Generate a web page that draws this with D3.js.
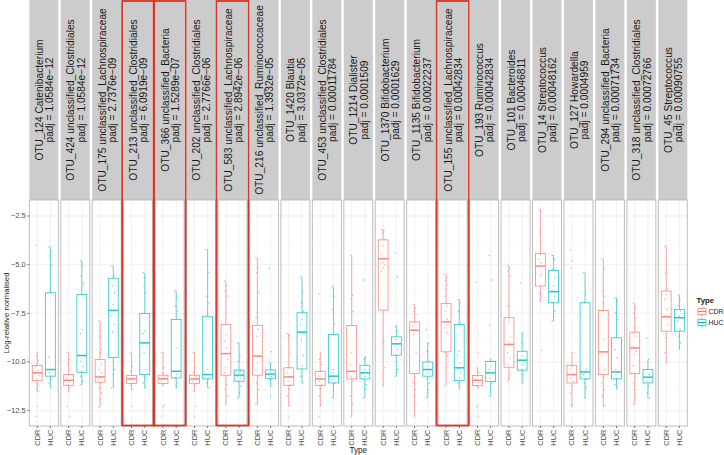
<!DOCTYPE html>
<html>
<head>
<meta charset="utf-8">
<script src="https://cdn.jsdelivr.net/npm/d3@7"></script>
<style>
  body { margin: 0; background: #fff; }
  text { font-family: "Liberation Sans", Arial, sans-serif; }
</style>
</head>
<body>
<div id="chart"></div>
<script>
// DATA
const otus = ["OTU_124 Catenibacterium", "OTU_424 unclassified_Clostridiales", "OTU_175 unclassified_Lachnospiraceae",
  "OTU_213 unclassified_Clostridiales", "OTU_366 unclassified_Bacteria", "OTU_202 unclassified_Clostridiales",
  "OTU_583 unclassified_Lachnospiraceae", "OTU_216 unclassified_Ruminococcaceae", "OTU_1420 Blautia",
  "OTU_453 unclassified_Clostridiales", "OTU_1214 Dialister", "OTU_1370 Bifidobacterium", "OTU_1135 Bifidobacterium",
  "OTU_155 unclassified_Lachnospiraceae", "OTU_193 Ruminococcus", "OTU_101 Bacteroides", "OTU_14 Streptococcus",
  "OTU_127 Howardella", "OTU_294 unclassified_Bacteria", "OTU_318 unclassified_Clostridiales", "OTU_45 Streptococcus"];
const padj = ["1.0584e−12", "1.0584e−12", "2.7376e−09", "6.0919e−09", "1.5289e−07", "2.7766e−06", "2.8942e−06",
  "1.3932e−05", "3.0372e−05", "0.00011784", "0.0001509", "0.0001629", "0.00022237", "0.00042834", "0.00042834",
  "0.00046811", "0.00048162", "0.0004959", "0.00071734", "0.00072766", "0.00090755"];
const highlighted = ["OTU_213 unclassified_Clostridiales", "OTU_366 unclassified_Bacteria",
  "OTU_583 unclassified_Lachnospiraceae", "OTU_155 unclassified_Lachnospiraceae"];
const types = ["CDR", "HUC"];
const yTicks = [-2.5, -5.0, -7.5, -10.0, -12.5];

// box stats: [lower whisker, q1, median, q3, upper whisker]
const cdrBox = [
  [-11.51, -10.96, -10.56, -10.18, -9.53], [-11.51, -11.20, -10.94, -10.65, -9.50], [-12.31, -11.04, -10.77, -9.88, -7.90],
  [-11.42, -11.11, -10.87, -10.70, -9.53], [-11.21, -11.11, -10.87, -10.68, -9.50], [-11.51, -11.11, -10.87, -10.68, -9.50],
  [-12.19, -10.68, -9.57, -8.07, -5.84], [-12.19, -10.68, -9.70, -8.13, -4.64], [-12.28, -11.20, -10.77, -10.30, -8.54],
  [-12.28, -11.20, -10.87, -10.48, -9.50], [-12.79, -10.87, -10.48, -8.13, -4.52], [-11.21, -7.34, -4.70, -3.73, -3.19],
  [-12.79, -10.60, -8.37, -7.94, -7.05], [-11.21, -9.48, -7.94, -6.99, -5.50], [-11.33, -11.21, -10.94, -10.70, -10.30],
  [-10.99, -10.27, -9.10, -7.73, -5.04], [-6.87, -6.10, -5.07, -4.42, -2.16], [-12.28, -11.08, -10.65, -10.17, -9.50],
  [-12.28, -10.65, -9.48, -7.35, -4.73], [-12.19, -10.60, -9.28, -8.47, -6.99], [-10.05, -8.42, -7.68, -6.36, -4.04]
];
const hucBox = [
  [-11.33, -10.73, -10.39, -6.45, -4.08], [-11.16, -10.53, -9.67, -6.53, -4.82], [-11.33, -9.77, -7.35, -5.70, -5.07],
  [-11.33, -10.65, -9.02, -7.51, -5.42], [-11.33, -10.82, -10.48, -7.82, -6.36], [-11.33, -10.87, -10.65, -7.65, -4.22],
  [-11.85, -10.99, -10.68, -10.42, -9.02], [-11.26, -10.84, -10.62, -10.41, -10.05], [-11.08, -10.36, -8.47, -7.47, -5.64],
  [-11.85, -11.08, -10.73, -8.59, -6.14], [-11.85, -10.87, -10.56, -10.17, -9.74], [-10.73, -9.65, -9.07, -8.71, -8.16],
  [-11.85, -10.73, -10.39, -10.00, -9.02], [-11.38, -10.96, -10.30, -8.07, -6.79], [-11.78, -11.01, -10.56, -9.98, -9.80],
  [-11.08, -10.42, -9.91, -9.45, -8.50], [-7.90, -6.96, -6.39, -5.30, -4.52], [-11.85, -10.87, -10.51, -6.96, -5.42],
  [-11.38, -10.87, -10.51, -8.76, -6.70], [-11.85, -11.08, -10.78, -10.39, -9.88], [-9.33, -8.42, -7.73, -7.30, -6.55]
];
const cdrPts = [
  [-4.01, -9.53, -9.70, -9.91, -10.08, -10.25, -10.42, -10.56, -10.70, -10.87, -11.04, -11.20, -11.38, -11.51, -12.28, -12.79],
  [-9.50, -9.88, -10.13, -10.39, -10.65, -10.82, -10.99, -11.16, -11.33, -11.51, -12.28, -12.79],
  [-7.90, -8.42, -8.68, -9.36, -9.53, -9.88, -10.13, -10.39, -10.56, -10.77, -10.90, -11.08, -11.33, -11.59, -11.93, -12.31],
  [-9.53, -10.25, -10.48, -10.70, -10.82, -10.94, -11.08, -11.21, -11.42, -12.28],
  [-9.50, -10.30, -10.56, -10.73, -10.87, -10.99, -11.11, -11.21, -12.24, -12.31, -12.79],
  [-9.50, -10.30, -10.56, -10.73, -10.87, -10.99, -11.16, -11.51, -12.28, -12.79],
  [-5.84, -6.07, -6.36, -6.62, -8.59, -8.93, -9.28, -9.57, -9.88, -10.30, -10.56, -11.16, -11.42, -11.76, -12.19],
  [-4.64, -5.16, -5.42, -6.45, -7.47, -7.73, -8.33, -8.68, -9.70, -10.05, -10.39, -10.73, -11.08, -11.42, -11.76, -12.19],
  [-8.54, -8.64, -8.81, -9.53, -10.30, -10.56, -10.77, -10.99, -11.16, -11.42, -11.76, -12.28, -12.79],
  [-6.50, -9.50, -9.88, -10.13, -10.48, -10.73, -10.87, -10.99, -11.16, -11.42, -11.76, -12.24, -12.79],
  [-4.52, -6.58, -6.75, -7.39, -9.53, -10.13, -10.48, -10.73, -10.99, -11.33, -11.76, -12.19, -12.79],
  [-3.19, -3.27, -3.39, -3.70, -4.04, -4.47, -4.73, -4.90, -4.99, -5.16, -5.33, -8.88, -9.02, -10.30, -11.21],
  [-7.05, -7.22, -7.39, -7.56, -7.99, -8.16, -8.37, -8.59, -9.50, -10.73, -11.08, -11.42, -11.76, -12.11, -12.79],
  [-5.50, -5.67, -5.84, -6.02, -6.27, -6.62, -7.13, -7.39, -7.82, -8.07, -8.25, -8.50, -9.53, -9.70, -10.30, -11.21],
  [-5.90, -9.50, -10.30, -10.53, -10.73, -10.90, -11.04, -11.21, -11.33, -12.24, -12.31, -12.79],
  [-5.04, -5.16, -5.33, -5.59, -6.62, -7.13, -7.85, -7.99, -8.68, -9.02, -9.53, -9.79, -10.13, -10.65, -10.82, -10.99],
  [-2.16, -2.24, -3.32, -3.87, -4.47, -4.73, -4.90, -5.07, -5.50, -5.59, -6.45, -6.62, -6.87, -9.40],
  [-4.25, -4.82, -5.16, -9.50, -10.22, -10.39, -10.65, -10.82, -10.99, -11.25, -11.59, -12.19, -12.28],
  [-4.73, -5.24, -6.36, -6.62, -6.96, -7.39, -8.85, -9.50, -10.39, -10.73, -11.08, -11.42, -11.76, -12.28],
  [-6.99, -7.22, -7.47, -7.73, -8.25, -8.50, -8.68, -9.19, -9.45, -9.62, -10.18, -10.73, -11.08, -11.42, -11.76, -12.19],
  [-4.04, -4.22, -5.42, -6.27, -6.53, -6.79, -7.30, -7.61, -8.07, -8.76, -9.53, -10.05]
];
const hucPts = [
  [-4.08, -4.30, -4.56, -5.04, -5.50, -9.74, -10.39, -10.56, -10.73, -10.90, -11.08, -11.33],
  [-4.82, -5.07, -5.59, -5.96, -8.33, -8.54, -9.67, -9.96, -10.22, -10.48, -10.73, -10.99, -11.16],
  [-5.07, -5.59, -6.10, -6.45, -7.05, -7.65, -8.07, -8.47, -10.39, -10.65, -11.33],
  [-5.42, -5.67, -6.07, -6.45, -8.42, -8.54, -9.02, -9.53, -10.39, -10.82, -11.08, -11.33],
  [-6.36, -6.62, -7.13, -7.39, -9.28, -10.48, -10.65, -10.82, -11.08, -11.33],
  [-4.22, -5.42, -6.62, -6.96, -10.39, -10.65, -10.82, -11.08, -11.33],
  [-9.02, -9.70, -9.96, -10.42, -10.56, -10.73, -10.87, -10.99, -11.25, -11.59, -11.85],
  [-5.21, -9.47, -10.05, -10.39, -10.50, -10.65, -10.75, -10.90, -11.26, -11.78],
  [-5.64, -6.36, -6.96, -7.39, -7.82, -8.07, -8.47, -8.85, -9.67, -10.22, -10.73, -11.08],
  [-6.14, -6.62, -7.30, -8.04, -10.39, -10.56, -10.73, -10.90, -11.08, -11.51, -11.85],
  [-5.79, -9.74, -9.88, -10.17, -10.39, -10.56, -10.73, -10.94, -11.16, -11.42, -11.85],
  [-4.39, -5.64, -8.16, -8.42, -8.85, -9.07, -9.36, -9.65, -10.39, -10.56, -10.73],
  [-8.33, -9.02, -9.45, -10.00, -10.22, -10.39, -10.56, -10.82, -11.08, -11.42, -11.85],
  [-6.79, -6.96, -7.39, -7.99, -9.45, -9.67, -10.05, -10.30, -10.56, -10.82, -11.08, -11.38],
  [-4.54, -5.79, -8.11, -9.98, -10.22, -10.39, -10.56, -10.82, -11.08, -11.42, -11.78],
  [-5.96, -8.50, -9.02, -9.45, -9.70, -9.91, -10.13, -10.39, -10.65, -11.08],
  [-4.52, -4.73, -5.24, -5.67, -6.10, -6.36, -6.62, -6.96, -7.39, -7.65, -7.90],
  [-5.42, -6.53, -6.96, -10.39, -10.51, -10.65, -10.90, -11.08, -11.33, -11.85],
  [-6.70, -6.87, -7.47, -7.82, -8.25, -9.36, -9.79, -10.39, -10.56, -10.87, -11.16, -11.38],
  [-8.77, -9.88, -10.39, -10.65, -10.82, -10.99, -11.25, -11.59, -11.85],
  [-6.55, -6.79, -7.13, -7.39, -7.65, -7.90, -8.33, -8.68, -9.02, -9.33]
];

// LAYOUT
const width = 724, height = 455;
const margin = {left: 29.3, right: 36.7, top: 200, bottom: 29};
const stripTop = 0;
const colors = {CDR: "#F8766D", HUC: "#00BFC4"};

const panels = otus.map((name, i) => ({
  name, padj: padj[i],
  groups: [
    {type: "CDR", box: cdrBox[i], pts: cdrPts[i]},
    {type: "HUC", box: hucBox[i], pts: hucPts[i]}
  ]
}));

const xPanel = d3.scaleBand()
  .domain(otus)
  .range([margin.left, width - margin.right])
  .paddingInner(0.078);

const xType = d3.scalePoint()
  .domain(types)
  .range([0, xPanel.bandwidth()])
  .padding(0.6);

const y = d3.scaleLinear()
  .domain([-13.29, -1.68])
  .range([height - margin.bottom, margin.top]);

const minorTicks = d3.range(-11.25, -1.68, 2.5);
const boxW = xType.step() * 0.75;

const svg = d3.select("#chart").append("svg")
  .attr("width", width)
  .attr("height", height);

const pg = svg.selectAll("g.panel")
  .data(panels)
  .join("g")
  .attr("class", "panel")
  .attr("transform", d => `translate(${xPanel(d.name)},0)`);

const bw = xPanel.bandwidth();

// strips
pg.append("rect")
  .attr("x", 0).attr("y", stripTop)
  .attr("width", bw).attr("height", margin.top - stripTop)
  .attr("fill", "#cccccc");

const st = pg.append("text")
  .attr("transform", `translate(${bw / 2 + 0.6},${(stripTop + margin.top) / 2}) rotate(-90)`)
  .attr("text-anchor", "middle")
  .attr("font-size", "10.2px")
  .attr("fill", "#1a1a1a");
st.append("tspan").attr("x", 0).attr("y", -5).attr("dominant-baseline", "central").text(d => d.name);
st.append("tspan").attr("x", 0).attr("y", 5.2).attr("dominant-baseline", "central").text(d => `padj = ${d.padj}`);

// panel background + grid
pg.append("rect")
  .attr("x", 0).attr("y", margin.top)
  .attr("width", bw).attr("height", height - margin.bottom - margin.top)
  .attr("fill", "#fff");

pg.selectAll("line.minor")
  .data(minorTicks)
  .join("line")
  .attr("x1", 0).attr("x2", bw)
  .attr("y1", d => y(d)).attr("y2", d => y(d))
  .attr("stroke", "#f7f7f7").attr("stroke-width", 0.6);

pg.selectAll("line.major")
  .data(yTicks)
  .join("line")
  .attr("x1", 0).attr("x2", bw)
  .attr("y1", d => y(d)).attr("y2", d => y(d))
  .attr("stroke", "#ebebeb").attr("stroke-width", 0.7);

pg.selectAll("line.vgrid")
  .data(types)
  .join("line")
  .attr("x1", d => xType(d)).attr("x2", d => xType(d))
  .attr("y1", margin.top).attr("y2", height - margin.bottom)
  .attr("stroke", "#ebebeb").attr("stroke-width", 0.7);

// boxplots
const gg = pg.selectAll("g.grp")
  .data(d => d.groups)
  .join("g")
  .attr("class", "grp")
  .attr("transform", d => `translate(${xType(d.type)},0)`)
  .attr("opacity", 0.85);

gg.append("line")
  .attr("x1", 0).attr("x2", 0)
  .attr("y1", d => y(d.box[0])).attr("y2", d => y(d.box[4]))
  .attr("stroke", d => colors[d.type]).attr("stroke-width", 0.7);

gg.append("rect")
  .attr("x", -boxW / 2).attr("width", boxW)
  .attr("y", d => y(d.box[3]))
  .attr("height", d => Math.max(0.5, y(d.box[1]) - y(d.box[3])))
  .attr("fill", "#fff")
  .attr("stroke", d => colors[d.type]).attr("stroke-width", 0.8);

gg.append("line")
  .attr("x1", -boxW / 2).attr("x2", boxW / 2)
  .attr("y1", d => y(d.box[2])).attr("y2", d => y(d.box[2]))
  .attr("stroke", d => colors[d.type]).attr("stroke-width", 1.5);

gg.selectAll("circle")
  .data(d => d.pts.map((v, i) => ({v, i, type: d.type})))
  .join("circle")
  .attr("cx", d => ((d.i * 3) % 5 - 2) * 0.7)
  .attr("cy", d => y(d.v))
  .attr("r", 0.75)
  .attr("fill", d => colors[d.type])
  .attr("opacity", 0.7);

// panel border
pg.append("rect")
  .attr("x", 0).attr("y", margin.top)
  .attr("width", bw).attr("height", height - margin.bottom - margin.top)
  .attr("fill", "none")
  .attr("stroke", "#bdbdbd").attr("stroke-width", 1);

// x ticks + labels
pg.selectAll("line.xtick")
  .data(types)
  .join("line")
  .attr("x1", d => xType(d)).attr("x2", d => xType(d))
  .attr("y1", height - margin.bottom).attr("y2", height - margin.bottom + 2)
  .attr("stroke", "#777");

pg.selectAll("text.xlab")
  .data(types)
  .join("text")
  .attr("transform", d => `translate(${xType(d)},${height - margin.bottom + 3.5}) rotate(-90)`)
  .attr("text-anchor", "end")
  .attr("dominant-baseline", "central")
  .attr("font-size", "7.5px")
  .attr("fill", "#4d4d4d")
  .text(d => d);

// y axis
const yAxis = svg.append("g");
yAxis.selectAll("text")
  .data(yTicks)
  .join("text")
  .attr("x", margin.left - 3.5)
  .attr("y", d => y(d))
  .attr("text-anchor", "end")
  .attr("dominant-baseline", "central")
  .attr("font-size", "7.5px")
  .attr("fill", "#4d4d4d")
  .text(d => d3.format(".1f")(d));
yAxis.selectAll("line")
  .data(yTicks)
  .join("line")
  .attr("x1", margin.left - 2).attr("x2", margin.left)
  .attr("y1", d => y(d)).attr("y2", d => y(d))
  .attr("stroke", "#777");

svg.append("text")
  .attr("transform", `translate(6.5,${(margin.top + height - margin.bottom) / 2}) rotate(-90)`)
  .attr("text-anchor", "middle")
  .attr("dominant-baseline", "central")
  .attr("font-size", "7.8px")
  .attr("fill", "#1a1a1a")
  .text("Log-relative normalised");

svg.append("text")
  .attr("x", (margin.left + width - margin.right) / 2)
  .attr("y", 453)
  .attr("text-anchor", "middle")
  .attr("font-size", "8.2px")
  .attr("fill", "#1a1a1a")
  .text("Type");

// highlight frames
svg.selectAll("rect.hl")
  .data(highlighted)
  .join("rect")
  .attr("x", d => xPanel(d) - 1.5)
  .attr("y", 1)
  .attr("width", bw + 3)
  .attr("height", height - margin.bottom - 1.5)
  .attr("fill", "none")
  .attr("stroke", "#d7372b")
  .attr("stroke-width", 1.8);

// legend
const lg = svg.append("g").attr("transform", "translate(696.5,0)");
lg.append("text")
  .attr("x", 0).attr("y", 303)
  .attr("font-size", "7.8px")
  .attr("font-weight", "bold")
  .attr("fill", "#1a1a1a")
  .text("Type");

const key = lg.selectAll("g.key")
  .data(types)
  .join("g")
  .attr("transform", (d, i) => `translate(0,${306 + i * 11})`);
key.append("rect")
  .attr("width", 11).attr("height", 11)
  .attr("fill", "#f2f2f2").attr("stroke", "#fff");
key.append("line")
  .attr("x1", 5.5).attr("x2", 5.5).attr("y1", 0.8).attr("y2", 10.2)
  .attr("stroke", d => colors[d]).attr("stroke-width", 0.7);
key.append("rect")
  .attr("x", 1.5).attr("y", 2.7).attr("width", 8).attr("height", 5.6)
  .attr("fill", "#fff")
  .attr("stroke", d => colors[d]).attr("stroke-width", 0.7);
key.append("line")
  .attr("x1", 1.5).attr("x2", 9.5).attr("y1", 5.5).attr("y2", 5.5)
  .attr("stroke", d => colors[d]).attr("stroke-width", 1.2);
key.append("text")
  .attr("x", 12).attr("y", 5.6)
  .attr("dominant-baseline", "central")
  .attr("font-size", "6.9px")
  .attr("fill", "#1a1a1a")
  .text(d => d);
</script>
</body>
</html>
